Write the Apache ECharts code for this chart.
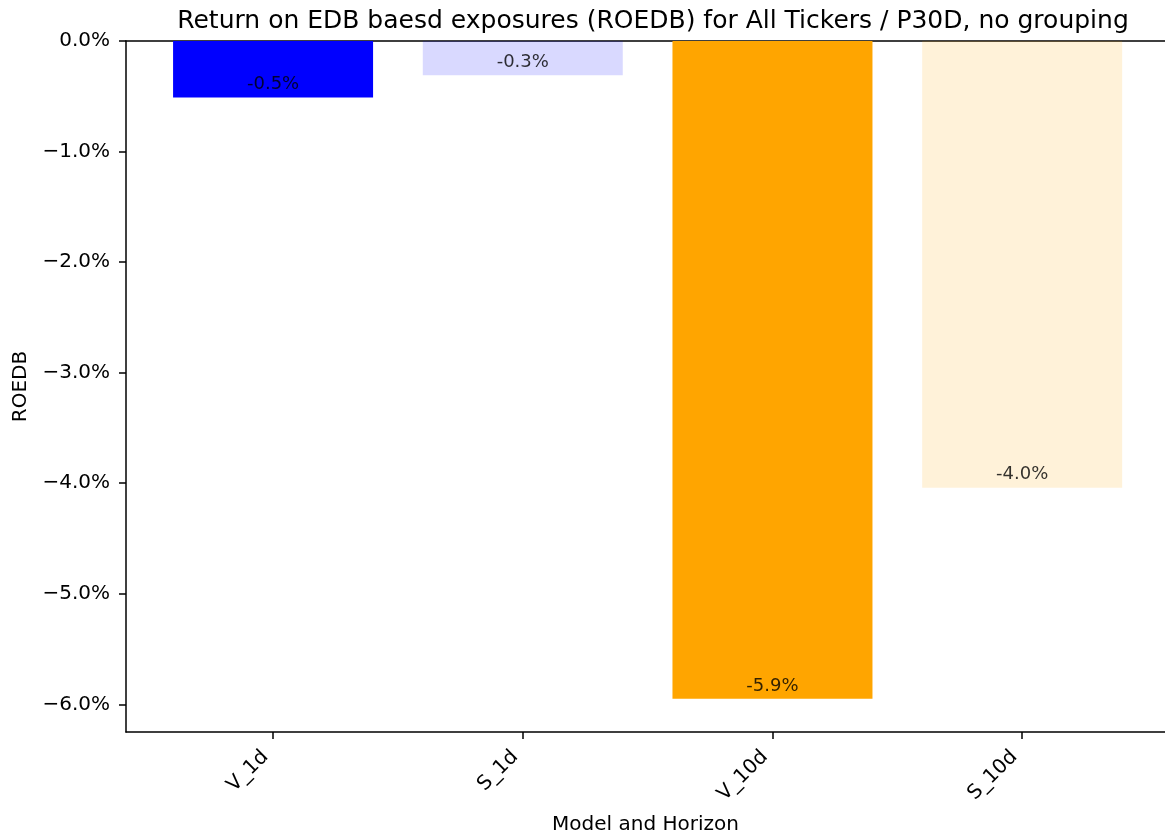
<!DOCTYPE html>
<html>
<head>
<meta charset="utf-8">
<script src="https://cdn.jsdelivr.net/npm/echarts@6/dist/echarts.min.js"></script>
<style>
html,body{margin:0;padding:0;background:#fff;}
#chart{width:1165px;height:836px;}
</style>
</head>
<body>
<div id="chart"></div>
<script>
// ---- data ----
const categories = ['V_1d', 'S_1d', 'V_10d', 'S_10d'];
const values = [-0.51, -0.31, -5.95, -4.04];
const barLabels = ['-0.5%', '-0.3%', '-5.9%', '-4.0%'];
const yTicks = [0, -1, -2, -3, -4, -5, -6];
const xTicks = [0, 1, 2, 3];
const titleText = 'Return on EDB baesd exposures (ROEDB) for All Tickers / P30D, no grouping';
const xName = 'Model and Horizon';
const yName = 'ROEDB';
// ---- styles ----
const colors = ['#0000ff', 'rgba(0,0,255,0.15)', '#ffa500', 'rgba(255,165,0,0.15)'];
const FONT = 'DejaVu Sans';
const axisLineStyle = { color: '#000', width: 1.5 };

function fmtY(v) {
  const s = Math.abs(v).toFixed(1) + '%';
  return v < 0 ? '\u2212' + s : s;
}

const chart = echarts.init(document.getElementById('chart'), null, { renderer: 'canvas' });
chart.setOption({
  animation: false,
  backgroundColor: '#fff',
  title: {
    text: titleText,
    left: 648,
    textAlign: 'center',
    top: 4,
    textStyle: { fontFamily: FONT, fontSize: 25, fontWeight: 'normal', color: '#000' }
  },
  grid: { left: 126, top: 41, right: 0, height: 691, containLabel: false, outerBoundsMode: 'none' },
  xAxis: [{
    type: 'value',
    min: -0.589,
    max: 3.572,
    position: 'bottom',
    name: xName,
    nameLocation: 'middle',
    nameGap: 83,
    nameTextStyle: { fontFamily: FONT, fontSize: 20, color: '#000' },
    axisLine: { show: true, onZero: false, lineStyle: axisLineStyle },
    axisTick: { show: true, customValues: xTicks, length: 7, lineStyle: axisLineStyle },
    axisLabel: {
      customValues: xTicks,
      formatter: function (v) { return categories[Math.round(v)]; },
      rotate: 45,
      margin: 14,
      padding: [0, 11, 0, 0],
      fontFamily: FONT, fontSize: 20, color: '#000'
    },
    splitLine: { show: false }
  }, {
    type: 'value',
    min: -0.589,
    max: 3.572,
    position: 'top',
    axisLine: { show: true, onZero: false, lineStyle: axisLineStyle },
    axisTick: { show: false },
    axisLabel: { show: false },
    splitLine: { show: false }
  }],
  yAxis: {
    type: 'value',
    min: -6.25,
    max: 0,
    name: yName,
    nameLocation: 'middle',
    nameRotate: 90,
    nameGap: 95,
    nameTextStyle: { fontFamily: FONT, fontSize: 20, color: '#000' },
    axisLine: { show: true, onZero: false, lineStyle: axisLineStyle },
    axisTick: { show: true, customValues: yTicks, length: 7, lineStyle: axisLineStyle },
    axisLabel: {
      customValues: yTicks,
      formatter: fmtY,
      margin: 16,
      fontFamily: FONT, fontSize: 20, color: '#000'
    },
    splitLine: { show: false }
  },
  series: [{
    type: 'bar',
    xAxisIndex: 0,
    barWidth: 200,
    data: values.map(function (v, i) {
      return { value: [i, v], itemStyle: { color: colors[i] } };
    })
  }, {
    type: 'scatter',
    xAxisIndex: 0,
    symbolSize: 0,
    silent: true,
    data: values.map(function (v, i) { return [i, v]; }),
    label: {
      show: true,
      position: 'top',
      distance: 4,
      formatter: function (p) { return barLabels[p.dataIndex]; },
      fontFamily: FONT, fontSize: 18, color: '#000'
    }
  }]
});
</script>
</body>
</html>
